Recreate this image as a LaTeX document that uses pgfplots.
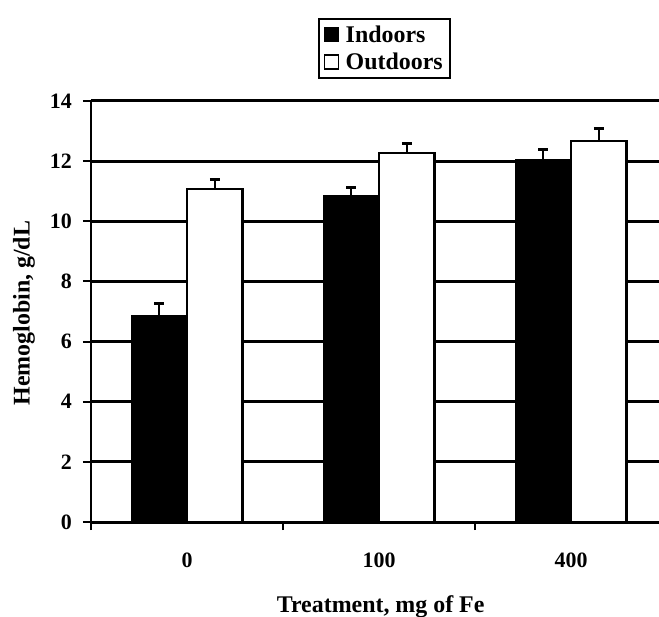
\documentclass[border=0pt]{standalone}
\usepackage{fontspec}
\setmainfont{Liberation Serif}
\usepackage{pgfplots}
\pgfplotsset{compat=1.18}
\begin{document}
\begin{tikzpicture}
\begin{axis}[
  at={(0,0)}, anchor=south west,
  scale only axis, width=568bp, height=421bp,
  ybar=0pt, bar width=0.29,
  xmin=-0.5, xmax=2.458, ymin=0, ymax=14,
  ytick={0,2,...,14},
  xtick={-0.5,0.5,1.5}, xticklabels={,,},
  extra x ticks={0,1,2}, extra x tick labels={0,100,400},
  extra x tick style={major tick length=0pt},
  axis x line*=bottom, axis y line*=left,
  axis line style={line width=2.5bp, -},
  tick align=outside, major tick length=8bp,
  tick style={line width=2bp, black},
  ymajorgrids, grid style={line width=3bp, black},
  /pgf/number format/assume math mode=true,
  ticklabel style={font=\fontsize{22}{22}\selectfont\bfseries},
  xticklabel style={yshift=-27bp},
  yticklabel style={anchor=east, inner sep=0pt, xshift=-11bp},
  xlabel={Treatment, mg of Fe},
  ylabel={Hemoglobin, g/dL},
  label style={font=\fontsize{24}{24}\selectfont\bfseries},
  xlabel style={at={(axis description cs:0.51,0)}, anchor=north, yshift=-70bp},
  ylabel style={at={(axis description cs:-0.118,0.496)}, anchor=center},
  legend style={at={(0.516,1)}, anchor=south, yshift=22bp, draw=black, line width=2bp,
    font=\fontsize{24}{24}\selectfont\bfseries, inner xsep=5bp, inner ysep=5bp,
    row sep=5bp, column sep=5bp},
  legend cell align=left,
  legend image code/.code={\draw[#1, line width=1.2bp] (0bp,-7bp) rectangle (14bp,7bp);},
]
\addplot[fill=black, draw=black, line width=1.5bp,
  error bars/.cd, y dir=plus, y explicit, error mark=|,
  error bar style={line width=2bp, black},
  error mark options={line width=3bp, mark size=5bp, black}]
  table[x=x, y=y, y error=e] {
x y e
0 6.87 0.38
1 10.84 0.30
2 12.05 0.35
};
\addlegendentry{Indoors}
\addplot[fill=white, draw=black, line width=2.5bp,
  error bars/.cd, y dir=plus, y explicit, error mark=|,
  error bar style={line width=2bp, black},
  error mark options={line width=3bp, mark size=5bp, black}]
  table[x=x, y=y, y error=e] {
x y e
0 11.07 0.33
1 12.27 0.33
2 12.67 0.40
};
\addlegendentry{Outdoors}
\end{axis}
\pgfresetboundingbox
\useasboundingbox (-91bp,-95bp) rectangle (568bp,522bp);
\end{tikzpicture}
\end{document}
